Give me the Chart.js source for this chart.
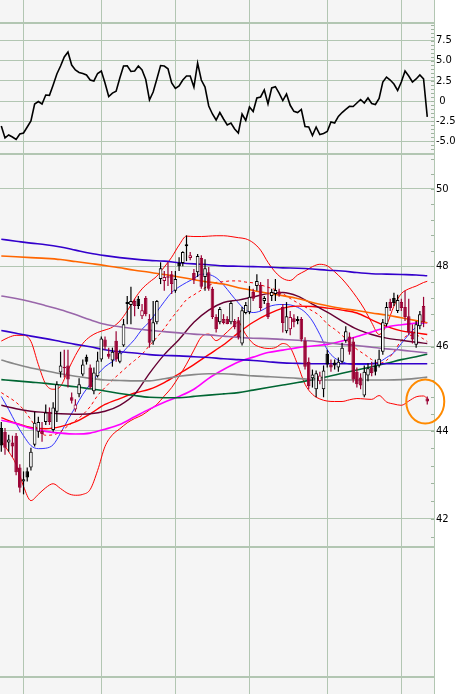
<!DOCTYPE html>
<html>
<head>
<meta charset="utf-8">
<script src="https://cdn.jsdelivr.net/npm/chart.js@4.4.1/dist/chart.umd.min.js"></script>
<style>
  html, body { margin: 0; padding: 0; background: #ffffff; }
  #wrap { position: relative; width: 468px; height: 694px; }
</style>
</head>
<body>
<div id="wrap"><canvas id="chart" width="468" height="694"></canvas></div>
<script>
// month boundaries (bar index of first trading day) and axis ticks
const monthStarts = [6, 27, 47, 67, 88, 108];
const oscTicks = [-5, -2.5, 0, 2.5, 5, 7.5];
const priceTicks = [42, 44, 46, 48, 50];
const oscMinorStep = 0.5;
const priceMinorStep = 0.4;

// daily candles
const open = [44.07,43.98,43.73,43.73,43.89,43.16,42.84,43.07,43.16,43.68,
  43.98,44.00,44.21,44.45,44.02,44.45,45.38,45.52,45.55,44.79,
  44.50,44.86,45.33,45.76,45.50,44.93,45.29,45.69,46.18,45.83,
  45.67,46.15,45.64,46.03,47.10,47.03,47.13,47.18,46.75,47.20,
  46.68,46.13,46.60,47.68,47.63,47.75,47.80,47.38,48.08,48.08,
  48.56,48.21,47.83,47.85,48.21,47.73,47.85,47.43,46.73,46.60,
  46.68,46.68,46.60,46.63,46.65,46.08,46.83,46.85,47.35,47.50,
  47.53,47.13,47.08,47.25,47.30,47.35,46.98,46.38,46.43,46.70,
  46.63,46.68,46.15,45.64,45.24,44.98,45.17,44.98,45.83,45.57,
  45.62,45.50,45.64,46.15,46.25,46.13,45.40,45.26,44.83,45.31,
  45.50,45.55,45.55,45.88,46.55,47.10,47.20,46.88,47.10,46.98,
  46.75,46.35,46.05,46.50,47.00,44.76];
const high = [44.21,44.07,43.91,43.89,43.95,43.23,43.07,43.16,43.61,44.45,
  44.33,44.21,44.62,44.55,44.67,45.17,45.88,45.93,45.93,44.90,
  44.74,45.24,45.69,45.81,45.57,45.50,45.88,46.25,46.25,45.98,
  45.98,46.38,45.93,46.68,47.25,47.48,47.18,47.25,47.05,47.25,
  46.80,47.13,47.15,48.10,47.88,48.10,47.88,47.88,48.23,48.38,
  48.79,48.36,47.93,48.31,48.28,48.18,47.98,47.48,46.80,46.98,
  46.80,46.75,47.13,46.68,46.73,46.98,47.10,47.50,47.43,47.80,
  47.60,47.25,47.68,47.43,47.68,47.43,47.05,47.10,46.88,46.80,
  46.75,46.73,46.23,45.74,45.45,45.43,45.40,45.55,45.93,45.69,
  45.69,45.74,46.10,46.50,46.35,46.23,45.50,45.36,45.55,45.60,
  45.64,45.69,45.93,46.68,47.10,47.18,47.33,47.28,47.18,47.38,
  47.18,46.55,46.63,46.88,47.23,44.81];
const low = [43.52,43.45,43.52,43.39,42.98,42.59,42.55,42.84,43.09,43.64,
  43.84,43.75,44.14,44.14,43.98,44.21,45.26,45.26,45.02,44.64,
  44.45,44.79,45.29,45.57,44.98,44.86,45.26,45.64,45.93,45.71,
  45.52,45.64,45.60,46.00,46.55,46.55,46.75,46.93,46.68,46.75,
  45.98,46.05,46.55,47.55,47.38,47.50,47.30,47.33,47.88,48.00,
  48.13,48.15,47.55,47.73,47.43,47.38,47.38,46.68,46.35,46.55,
  46.55,46.55,46.55,46.43,46.18,46.03,46.80,46.80,47.13,47.38,
  46.88,47.05,46.68,47.13,47.13,47.23,46.35,46.33,46.28,46.48,
  46.55,46.13,45.45,44.98,45.02,44.79,45.10,44.79,45.50,45.40,
  45.45,45.40,45.60,46.10,45.81,45.14,45.02,44.98,44.79,45.17,
  45.29,45.31,45.50,45.81,46.50,46.88,47.00,46.83,46.88,46.63,
  46.28,46.08,45.98,46.43,46.48,44.62];
const close = [43.66,43.61,43.80,43.64,43.05,42.70,42.89,42.93,43.52,44.19,
  44.21,43.93,44.43,44.21,44.55,45.10,45.55,45.48,45.21,44.71,
  44.62,45.10,45.57,45.64,45.02,45.38,45.67,46.20,46.00,45.76,
  45.88,45.69,45.86,46.55,47.05,47.13,47.00,47.00,46.90,46.80,
  46.10,46.60,47.13,47.95,47.73,47.71,47.55,47.68,48.00,48.36,
  48.51,48.28,47.65,48.26,47.48,47.95,47.43,46.73,46.43,46.93,
  46.58,46.56,47.08,46.48,46.23,46.90,47.03,47.23,47.18,47.63,
  46.95,47.20,46.73,47.35,47.40,47.28,46.58,46.75,46.73,46.60,
  46.68,46.18,45.52,45.05,45.33,45.36,45.31,45.43,45.57,45.50,
  45.55,45.64,45.98,46.38,45.88,45.21,45.10,45.07,45.40,45.48,
  45.36,45.40,45.71,46.60,46.98,46.95,47.08,47.15,46.95,46.73,
  46.35,46.18,46.55,46.80,46.60,44.69];

// oscillator (top pane), one value per bar
const osc = [-3.1,-4.58,-4.21,-4.46,-4.77,-4.09,-3.96,-3.22,-2.47,-0.36,
  -0.05,-0.36,0.76,0.72,2.0,3.37,4.36,5.48,6.10,4.48,
  3.86,3.55,3.43,3.24,2.62,2.50,3.43,3.74,2.25,0.57,
  1.0,1.22,2.87,4.36,4.38,3.68,3.74,4.36,3.86,2.68,
  0.14,1.13,2.75,4.42,4.36,4.02,2.25,1.57,1.88,2.62,
  3.12,3.12,1.75,4.73,2.62,1.75,-0.61,-1.60,-2.35,-1.42,
  -2.22,-2.97,-2.72,-3.47,-3.96,-1.60,-2.41,-0.73,-1.29,0.39,
  0.51,1.38,-0.36,1.63,1.79,1.0,0.07,0.88,-0.52,-1.27,
  -1.43,-1.04,-3.16,-3.22,-4.27,-3.22,-4.15,-4.02,-3.78,-2.60,
  -2.72,-1.91,-1.42,-1.04,-0.65,-0.67,-0.24,0.20,-0.24,0.39,
  -0.30,-0.42,0.32,2.37,2.99,2.62,2.12,1.32,2.37,3.74,
  3.12,2.37,2.75,3.24,2.75,-1.95];

// overlays read every 2 bars
const fineIdx = [0,2,4,6,8,10,12,14,16,18,20,22,24,26,28,30,32,34,36,38,40,42,44,46,48,50,52,54,56,58,
  60,62,64,66,68,70,72,74,76,78,80,82,84,86,88,90,92,94,96,98,100,102,104,106,108,110,112,114,115];
const bbUpper = [46.14,46.23,46.28,46.28,46.13,45.57,45.10,44.98,45.05,45.43,45.79,46.08,46.25,46.35,46.41,
  46.48,46.63,46.88,47.18,47.43,47.60,47.75,47.98,48.23,48.54,48.77,48.76,48.76,48.77,48.78,
  48.78,48.76,48.73,48.70,48.60,48.41,48.10,47.85,47.69,47.64,47.78,47.88,47.99,48.05,48.01,
  47.86,47.68,47.46,47.21,46.93,46.59,46.30,46.53,47.00,47.31,47.43,47.50,47.59,47.62];
const bbMid = [44.90,44.79,44.67,44.50,44.26,44.02,43.90,43.91,43.98,44.12,44.24,44.38,44.57,44.83,45.02,
  45.20,45.36,45.52,45.67,45.82,46.03,46.23,46.45,46.70,46.93,47.16,47.28,47.40,47.51,47.59,
  47.61,47.63,47.63,47.60,47.58,47.53,47.47,47.41,47.31,47.19,47.08,46.98,46.88,46.76,46.56,
  46.43,46.28,46.10,45.94,45.82,45.69,45.60,45.67,45.88,46.15,46.28,46.28,46.19,46.13];
const bbLower = [43.77,43.52,43.23,42.73,42.41,42.55,42.70,42.79,42.68,42.57,42.53,42.55,42.66,43.09,43.64,
  43.91,44.05,44.19,44.29,44.37,44.49,44.62,44.82,45.02,45.29,45.58,45.92,46.24,46.31,46.15,
  46.28,46.45,46.60,46.30,46.08,45.99,45.96,45.98,46.08,45.98,45.57,45.10,44.86,44.75,44.70,
  44.69,44.69,44.73,44.76,44.75,44.74,44.83,44.68,44.63,44.60,44.70,44.80,44.82,44.76];
const maBlueThin = [44.81,44.50,44.17,43.89,43.66,43.59,43.60,43.68,43.95,44.26,44.56,44.86,45.10,45.33,45.52,
  45.64,45.79,45.99,46.18,46.43,46.61,46.86,47.11,47.34,47.48,47.59,47.69,47.80,47.79,47.71,
  47.53,47.30,47.08,46.90,46.84,46.88,46.98,47.03,47.04,47.03,46.97,46.85,46.63,46.30,45.93,
  45.73,45.64,45.58,45.57,45.57,45.60,45.63,45.74,45.86,46.08,46.30,46.48,46.58,46.59];

// longer averages read every 4 bars
const coarseIdx = [0,4,8,12,16,20,24,28,32,36,40,44,48,52,56,60,64,68,72,76,80,84,88,92,96,100,104,108,112,115];
const maIndigoTop = [48.69,48.64,48.59,48.55,48.49,48.41,48.33,48.27,48.22,48.18,48.15,48.13,48.09,48.06,48.04,
  48.01,48.00,47.99,47.98,47.96,47.95,47.93,47.90,47.88,47.84,47.81,47.80,47.79,47.78,47.76];
const maOrange = [48.26,48.24,48.22,48.20,48.17,48.12,48.07,48.02,47.96,47.90,47.85,47.79,47.73,47.66,47.60,
  47.55,47.46,47.39,47.32,47.26,47.19,47.09,47.01,46.94,46.89,46.83,46.78,46.71,46.64,46.59];
const maMauve = [47.25,47.19,47.11,47.01,46.91,46.79,46.66,46.55,46.49,46.44,46.40,46.37,46.34,46.31,46.29,
  46.26,46.23,46.21,46.20,46.18,46.16,46.14,46.10,46.06,46.03,45.99,45.95,45.92,45.88,45.85];
const maIndigoLow = [46.40,46.33,46.26,46.20,46.13,46.06,46.00,45.93,45.88,45.85,45.81,45.79,45.78,45.76,45.74,
  45.71,45.69,45.67,45.64,45.61,45.60,45.59,45.59,45.59,45.59,45.59,45.59,45.59,45.59,45.59];
const maGray = [45.68,45.58,45.49,45.42,45.35,45.29,45.24,45.20,45.19,45.18,45.18,45.23,45.29,45.33,45.35,
  45.35,45.33,45.30,45.28,45.26,45.24,45.21,45.20,45.20,45.20,45.20,45.20,45.21,45.24,45.27];
const maGreen = [45.21,45.18,45.15,45.12,45.08,45.04,44.99,44.94,44.88,44.83,44.79,44.78,44.78,44.81,44.84,
  44.87,44.90,44.96,45.02,45.08,45.14,45.21,45.28,45.36,45.44,45.52,45.60,45.69,45.76,45.82];
const maMagenta = [44.25,44.17,44.06,43.99,43.95,43.93,43.95,44.04,44.15,44.33,44.51,44.67,44.81,44.98,45.24,
  45.45,45.63,45.75,45.86,45.92,45.98,46.02,46.06,46.14,46.25,46.36,46.48,46.54,46.58,46.59];
const maMaroon = [44.60,44.52,44.46,44.43,44.40,44.39,44.40,44.46,44.60,44.86,45.36,45.81,46.18,46.60,46.90,
  47.09,47.15,47.23,47.31,47.34,47.25,47.05,46.85,46.63,46.43,46.30,46.21,46.16,46.11,46.08];
const maRed = [44.31,44.18,44.08,44.05,44.10,44.21,44.40,44.62,44.76,44.89,44.98,45.14,45.35,45.57,45.81,
  46.05,46.34,46.60,46.80,46.95,47.00,46.99,46.95,46.90,46.83,46.66,46.50,46.39,46.34,46.30];

// bar that is circled on the chart
const markIdx = 115;

const gridColor = '#b2c6b2';
const downRed = '#990033';

const idx = close.map((_, i) => i);
const candleColor = idx.map(i => (i === 0 || close[i] >= close[i - 1]) ? '#000000' : downRed);
const bodyFill = idx.map(i => close[i] > open[i] ? '#ffffff' : candleColor[i]);

function pts(xs, ys) {
  return xs.map((x, k) => ({ x: x, y: ys[k] }));
}

function maLine(label, xs, ys, color, width, dash) {
  return {
    type: 'line', label: label, yAxisID: 'yPrice', order: 2,
    data: pts(xs, ys), borderColor: color, borderWidth: width,
    borderDash: dash || [], pointRadius: 0, fill: false,
    cubicInterpolationMode: 'monotone'
  };
}

// small minor tick marks just inside the right axis line
function minorTicks(ctx, scale, x, step) {
  const lo = Math.ceil(scale.min / step) * step;
  for (let v = lo; v <= scale.max; v += step) {
    const y = Math.round(scale.getPixelForValue(v)) + 0.5;
    if (y < scale.top + 1 || y > scale.bottom - 1) continue;
    ctx.beginPath();
    ctx.moveTo(x - 3, y);
    ctx.lineTo(x, y);
    ctx.stroke();
  }
}

const panes = {
  id: 'panes',
  beforeDraw(chart) {
    const { ctx, chartArea } = chart;
    ctx.save();
    ctx.fillStyle = '#f5f5f5';
    ctx.fillRect(chartArea.left, chartArea.top, chartArea.width, chartArea.height);
    ctx.restore();
  },
  beforeDatasetsDraw(chart) {
    const { ctx, chartArea, scales } = chart;
    ctx.save();
    ctx.strokeStyle = gridColor;
    ctx.lineWidth = 2;
    ['yOsc', 'yPrice', 'yLow', 'yBottom'].forEach(id => {
      const y = Math.round(scales[id].top);
      ctx.beginPath();
      ctx.moveTo(chartArea.left, y);
      ctx.lineTo(chartArea.right, y);
      ctx.stroke();
    });
    ctx.lineWidth = 1;
    ctx.strokeStyle = '#9fb49f';
    minorTicks(ctx, scales.yOsc, chartArea.right, oscMinorStep);
    minorTicks(ctx, scales.yPrice, chartArea.right, priceMinorStep);
    ctx.restore();
  },
  afterDatasetsDraw(chart) {
    const { ctx, scales } = chart;
    const cx = scales.x.getPixelForValue(markIdx) - 2;
    const cy = scales.yPrice.getPixelForValue(close[markIdx]);
    ctx.save();
    ctx.strokeStyle = '#ff8a00';
    ctx.lineWidth = 2;
    ctx.beginPath();
    ctx.ellipse(cx, cy, 19, 22, 0, 0, Math.PI * 2);
    ctx.stroke();
    ctx.restore();
  }
};

function fixWidth(scale) {
  scale.width = 34;
  scale.paddingTop = 0;
  scale.paddingBottom = 0;
}

function emptyPane(weight, order) {
  return {
    type: 'linear', position: 'right', stack: 'panes', stackWeight: weight, weight: order,
    min: 0, max: 1, bounds: 'data',
    ticks: { display: false },
    grid: { display: false },
    border: { display: true, color: gridColor, width: 1 },
    afterBuildTicks: s => { s.ticks = []; },
    afterFit: fixWidth
  };
}

Chart.defaults.font.family = 'DejaVu Sans';
Chart.defaults.font.size = 10;
Chart.defaults.color = '#000000';

new Chart(document.getElementById('chart'), {
  type: 'line',
  data: {
    datasets: [
      {
        type: 'bar', label: 'body', yAxisID: 'yPrice', order: 0, grouped: false,
        data: idx.map(i => ({ x: i, y: [open[i], close[i]] })),
        backgroundColor: bodyFill, borderColor: candleColor, borderWidth: 1,
        borderSkipped: false, barThickness: 3.6, minBarLength: 1.5, inflateAmount: 0
      },
      {
        type: 'bar', label: 'wick', yAxisID: 'yPrice', order: 1, grouped: false,
        data: idx.map(i => ({ x: i, y: [low[i], high[i]] })),
        backgroundColor: candleColor, borderWidth: 0, barThickness: 1.2, inflateAmount: 0
      },
      maLine('indigo top', coarseIdx, maIndigoTop, '#3300cc', 1.6),
      maLine('orange', coarseIdx, maOrange, '#ff6600', 1.6),
      maLine('mauve', coarseIdx, maMauve, '#9966aa', 1.6),
      maLine('indigo low', coarseIdx, maIndigoLow, '#3300cc', 1.6),
      maLine('gray', coarseIdx, maGray, '#888888', 1.6),
      maLine('green', coarseIdx, maGreen, '#006633', 1.6),
      maLine('magenta', coarseIdx, maMagenta, '#ff00ff', 1.6),
      maLine('maroon', coarseIdx, maMaroon, '#660033', 1.4),
      maLine('red', coarseIdx, maRed, '#ff0000', 1.4),
      maLine('bb upper', fineIdx, bbUpper, '#ff0000', 1),
      maLine('bb lower', fineIdx, bbLower, '#ff0000', 1),
      maLine('bb mid', fineIdx, bbMid, '#ff0000', 1, [3, 3]),
      maLine('blue', fineIdx, maBlueThin, '#3333ff', 1),
      {
        type: 'line', label: 'osc', yAxisID: 'yOsc', order: 2,
        data: idx.map(i => ({ x: i, y: osc[i] })),
        borderColor: '#000000', borderWidth: 1.6, pointRadius: 0, tension: 0
      }
    ]
  },
  options: {
    responsive: false,
    animation: false,
    events: [],
    layout: { padding: 0, autoPadding: false },
    plugins: { legend: { display: false }, tooltip: { enabled: false } },
    scales: {
      x: {
        type: 'linear', min: -0.351, max: 116.82, bounds: 'data', offset: false,
        ticks: { display: false },
        grid: { color: gridColor, lineWidth: 1, drawTicks: false, offset: false },
        border: { display: false },
        afterBuildTicks: s => { s.ticks = monthStarts.map(v => ({ value: v })); }
      },
      yTop: emptyPane(23, 1),
      yOsc: {
        type: 'linear', position: 'right', stack: 'panes', stackWeight: 131, weight: 2,
        min: -6.57, max: 9.70, bounds: 'data',
        ticks: {
          padding: 2, autoSkip: false,
          callback: v => v === 0 ? ' 0' : v.toFixed(1)
        },
        grid: { color: gridColor, lineWidth: 1, drawTicks: false },
        border: { display: true, color: gridColor, width: 1 },
        afterBuildTicks: s => { s.ticks = oscTicks.map(v => ({ value: v })); },
        afterFit: fixWidth
      },
      yPrice: {
        type: 'logarithmic', position: 'right', stack: 'panes', stackWeight: 393, weight: 3,
        min: 41.383, max: 50.933, bounds: 'data',
        ticks: { padding: 2, autoSkip: false, callback: v => String(v) },
        grid: { color: gridColor, lineWidth: 1, drawTicks: false },
        border: { display: true, color: gridColor, width: 1 },
        afterBuildTicks: s => { s.ticks = priceTicks.map(v => ({ value: v })); },
        afterFit: fixWidth
      },
      yLow: emptyPane(130, 4),
      yBottom: emptyPane(17, 5)
    }
  },
  plugins: [panes]
});
</script>
</body>
</html>
